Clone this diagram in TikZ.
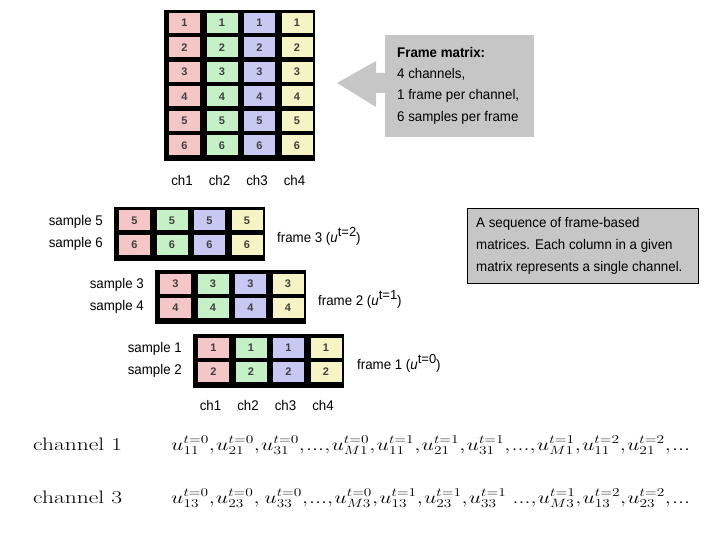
\documentclass[tikz,border=0pt]{standalone}
\usepackage{fontspec}
\usepackage{graphicx}
\newfontfamily\condf[FakeStretch=0.95]{Liberation Sans}
\newfontfamily\numf{Liberation Sans}
\DeclareMathSizes{18}{18}{13}{9}
\definecolor{cred}{HTML}{F4C6C6}
\definecolor{cgreen}{HTML}{C6F0C6}
\definecolor{cblue}{HTML}{C8C8F2}
\definecolor{cyellow}{HTML}{F6F4C4}
\definecolor{boxgray}{HTML}{C6C6C6}
\tikzset{
 cell/.style={minimum width=31pt, minimum height=20pt, inner sep=0pt, font=\numf\bfseries\fontsize{11}{12}\selectfont, text=black!75},
 lbl/.style={font=\condf\fontsize{14}{17}\selectfont, inner sep=0pt},
 frm/.style={fill=black, inner sep=0pt, minimum width=151pt, minimum height=54pt, anchor=north west},
 eqn/.style={font=\fontsize{18}{20}\selectfont, inner sep=0pt, anchor=base west},
}
\newcommand\myframe[5]{%
 \node[frm] (#1) at (#2,#3) {};
 \foreach \c/\col in {1/cred,2/cgreen,3/cblue,4/cyellow}{
   \node[cell, fill=\col] (#1a\c) at ({#2+20.5+37.5*(\c-1)}, {#3+13.5}) {#4};
   \node[cell, fill=\col] (#1b\c) at ({#2+20.5+37.5*(\c-1)}, {#3+38}) {#5};
 }
 \node[lbl, anchor=east] (#1s1) at ({#2-11}, {#3+15}) {sample #4};
 \node[lbl, anchor=east] (#1s2) at ({#2-11}, {#3+37}) {sample #5};
}
\newcommand\cm{{,}\mkern1mu}
\begin{document}
\begin{tikzpicture}[x=1pt,y=-1pt]
\useasboundingbox (0,0) rectangle (720,540);
% top frame matrix
\node[fill=black, inner sep=0pt, minimum width=151pt, minimum height=151pt, anchor=north west] (top) at (164,10) {};
\foreach \c/\col in {1/cred,2/cgreen,3/cblue,4/cyellow}{
  \foreach \r in {1,...,6}{
    \node[cell, fill=\col] (t\c\r) at ({184.5+37.5*(\c-1)}, {23+24.5*(\r-1)}) {\r};
  }
  \node[lbl] (tch\c) at ({182+37.5*(\c-1)}, 180) {ch\c};
}
% arrow + box
\fill[boxgray] (337,83) -- (376,61) -- (376,73) -- (386,73) -- (386,93) -- (376,93) -- (376,107) -- cycle;
\node[fill=boxgray, inner sep=0pt, minimum width=149pt, minimum height=102pt, anchor=north west] (fmbox) at (385,35) {};
\node[lbl, anchor=base west] (fm1) at (397,58) {\bfseries Frame matrix:};
\node[lbl, anchor=base west] (fm2) at (397,79) {4 channels,};
\node[lbl, anchor=base west] (fm3) at (397,100) {1 frame per channel,};
\node[lbl, anchor=base west] (fm4) at (397,122) {6 samples per frame};
% frames
\myframe{fc}{114}{207}{5}{6}
\myframe{fb}{155}{270}{3}{4}
\myframe{fa}{193}{334}{1}{2}
\node[lbl, anchor=west] (fcl) at (277,236) {frame 3 (\textit{u}\raisebox{6pt}{\numf\fontsize{13}{13}\selectfont t=2})};
\node[lbl, anchor=west] (fbl) at (318,299) {frame 2 (\textit{u}\raisebox{6pt}{\numf\fontsize{13}{13}\selectfont t=1})};
\node[lbl, anchor=west] (fal) at (357,363) {frame 1 (\textit{u}\raisebox{6pt}{\numf\fontsize{13}{13}\selectfont t=0})};
\foreach \c in {1,...,4}{
  \node[lbl] (bch\c) at ({210.5+37.5*(\c-1)}, 405) {ch\c};
}
% sequence box
\node[draw=black, line width=1.3pt, fill=boxgray, inner sep=0pt, minimum width=231pt, minimum height=75pt, anchor=north west] (seqbox) at (467,208) {};
\node[lbl, anchor=base west] (sq1) at (476,228) {A sequence of frame-based};
\node[lbl, anchor=base west] (sq2) at (476,249) {matrices. Each column in a given};
\node[lbl, anchor=base west] (sq3) at (476,271) {matrix represents a single channel.};
% channel sequences
\node[eqn] (ch1) at (33,450) {\resizebox{89pt}{\height}{channel 1}};
\node[eqn] (eq1) at (171,450) {\resizebox{519pt}{\height}{$u^{t=0}_{11}\cm u^{t=0}_{21}\cm u^{t=0}_{31}\cm...\cm u^{t=0}_{M1}\cm u^{t=1}_{11}\cm u^{t=1}_{21}\cm u^{t=1}_{31}\cm...\cm u^{t=1}_{M1}\cm u^{t=2}_{11}\cm u^{t=2}_{21}\cm...$}};
\node[eqn] (ch3) at (33,503) {\resizebox{89pt}{\height}{channel 3}};
\node[eqn] (eq3) at (171,503) {\resizebox{519pt}{\height}{$u^{t=0}_{13}\cm u^{t=0}_{23}\cm\, u^{t=0}_{33}\cm...\cm u^{t=0}_{M3}\cm u^{t=1}_{13}\cm u^{t=1}_{23}\cm u^{t=1}_{33}\;...\cm u^{t=1}_{M3}\cm u^{t=2}_{13}\cm u^{t=2}_{23}\cm...$}};
\end{tikzpicture}
\end{document}
